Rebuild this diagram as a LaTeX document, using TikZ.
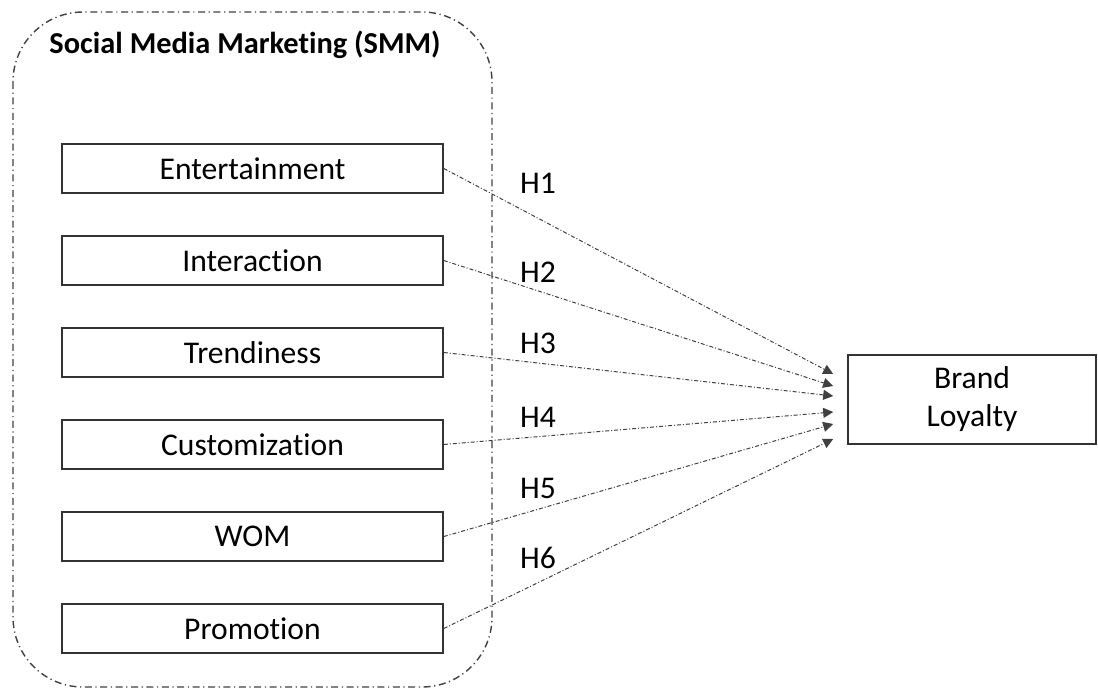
\documentclass[tikz,border=0pt]{standalone}
\usepackage{fontspec}
\setmainfont{Carlito}[Ligatures=NoCommon]
\usetikzlibrary{arrows.meta,positioning}
\tikzset{
  factor/.style={draw=black!80,line width=0.8pt,minimum width=190.5pt,
    minimum height=24.5pt,inner sep=0pt},
  hyparrow/.style={draw=black!75,line width=0.5pt,
    dash pattern=on 2pt off 1pt on 0.5pt off 1pt,
    -{Triangle[length=5pt,width=5pt]}},
  smmframe/.style={draw=black!75,line width=0.7pt,
    dash pattern=on 3.5pt off 1.8pt on 0.6pt off 1.8pt,rounded corners=35pt},
}
% arrow tip #1 from box #2, shifted #3 on the left side of bl, label #4 at #5
\newcommand\hyp[5]{\coordinate(#1)at([xshift=-7pt,yshift=#3]bl.west);
  \draw[hyparrow] (#2.east) -- (#1); \node(l#1) at #5 {#4};}

\begin{document}
\begin{tikzpicture}[x=0.5pt,y=-0.5pt,node distance=46pt,
    every node/.style={font=\fontsize{15.8}{19}\selectfont}]
  \useasboundingbox (0,0) rectangle (1098,687);
  % SMM group
  \draw[smmframe] (13,12) rectangle (492,687);
  \node(smm)[font=\fontsize{15.2}{18}\selectfont\bfseries] at (245,45)
    {Social Media Marketing (SMM)};
  \node(ent)[factor] at (252.5,168.5) {Entertainment};
  \node(int)[factor,below of=ent] {Interaction};
  \node(tre)[factor,below of=int] {Trendiness};
  \node(cus)[factor,below of=tre] {Customization};
  \node(wom)[factor,below of=cus] {WOM};
  \node(pro)[factor,below of=wom] {Promotion};
  % outcome
  \node(bl)[draw=black!80,line width=0.8pt,minimum width=124pt,minimum height=44.5pt,
    align=center] at (972,399.5) {Brand\\Loyalty};
  % hypotheses
  \hyp{t1}{ent}{12.75pt}{H1}{(538,183)}
  \hyp{t2}{int}{6.75pt}{H2}{(538,272)}
  \hyp{t3}{tre}{1.75pt}{H3}{(538,343)}
  \hyp{t4}{cus}{-6.25pt}{H4}{(538,417)}
  \hyp{t5}{wom}{-12.25pt}{H5}{(538,488)}
  \hyp{t6}{pro}{-19.75pt}{H6}{(538,558)}
\end{tikzpicture}
\end{document}
